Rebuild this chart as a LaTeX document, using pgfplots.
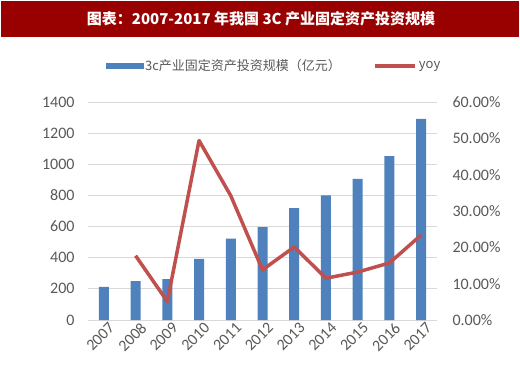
\documentclass[border=0pt]{standalone}
\usepackage{pgfplots}
\pgfplotsset{compat=1.18}
\usepackage{fontspec}
\setmainfont{Carlito}
\newfontfamily\cjk{Noto Sans CJK SC}
\definecolor{barblue}{HTML}{4F81BD}
\definecolor{linered}{HTML}{C0504D}
\definecolor{titlered}{HTML}{990000}
\definecolor{ticklbl}{HTML}{595959}
\definecolor{gridc}{HTML}{D9D9D9}
\begin{document}
\begin{tikzpicture}
\useasboundingbox (0bp,0bp) rectangle (520bp,373bp);
\fill[titlered] (1bp,336bp) rectangle (519bp,372bp);
\node[text=white,font=\cjk\bfseries\fontsize{15bp}{18bp}\selectfont] at (261bp,354bp) {图表：2007-2017 年我国 3C 产业固定资产投资规模};
\begin{axis}[
  at={(88bp,53bp)}, anchor=south west, scale only axis,
  width=349bp, height=218bp,
  xmin=-0.5, xmax=10.5, ymin=0, ymax=1400,
  ytick={0,200,400,600,800,1000,1200,1400},
  xtick={0,1,2,3,4,5,6,7,8,9,10},
  xticklabels={2007,2008,2009,2010,2011,2012,2013,2014,2015,2016,2017},
  x tick label style={rotate=45, anchor=north east, inner sep=1bp, xshift=3bp, yshift=-3bp},
  axis x line*=bottom, axis y line*=left,
  y axis line style={draw=none},
  x axis line style={draw=gridc, line width=0.8bp, -},
  ymajorgrids, grid style={draw=gridc, line width=0.8bp},
  major tick style={draw=none},
  tick label style={font=\fontsize{16bp}{18bp}\selectfont, text=ticklbl},
  /pgf/number format/assume math mode=true,
  yticklabel style={anchor=east, xshift=-10bp},
  yticklabel={\pgfmathprintnumber[1000 sep={}]{\tick}},
]
\addplot[ybar, bar width=10bp, fill=barblue, draw=none] coordinates {
(0,213) (1,250) (2,263) (3,392) (4,523) (5,597) (6,719) (7,801) (8,907) (9,1053) (10,1292)};
\end{axis}
\begin{axis}[
  at={(88bp,53bp)}, anchor=south west, scale only axis,
  width=349bp, height=218bp,
  xmin=-0.5, xmax=10.5, ymin=0, ymax=60,
  ytick={0,10,20,30,40,50,60},
  axis y line*=right, axis x line=none,
  y axis line style={draw=none},
  major tick style={draw=none},
  tick label style={font=\fontsize{16bp}{18bp}\selectfont, text=ticklbl},
  /pgf/number format/assume math mode=true,
  yticklabel={\pgfmathprintnumber[fixed,fixed zerofill,precision=2]{\tick}\%},
  yticklabel style={anchor=west, xshift=12bp},
  legend style={at={(0.533,1.165)}, anchor=center, draw=none, fill=none,
    legend columns=2, font=\cjk\fontsize{13bp}{15bp}\selectfont, text=ticklbl,
    /tikz/every even column/.append style={column sep=30bp}},
]
\addlegendimage{legend image code/.code={\fill[barblue] (0bp,-2.5bp) rectangle (37bp,2.5bp);}}
\addlegendentry{3c产业固定资产投资规模（亿元）}
\addplot[linered, line width=3.5bp, line join=round, mark=none,
  legend image code/.code={\draw[linered, line width=4bp] (0bp,0bp) -- (40bp,0bp);}]
  coordinates {(1,17.7) (2,5.1) (3,49.4) (4,34.2) (5,13.8) (6,20.1) (7,11.5) (8,13.2) (9,15.7) (10,23.4)};
\addlegendentry{yoy}
\end{axis}
\end{tikzpicture}
\end{document}
